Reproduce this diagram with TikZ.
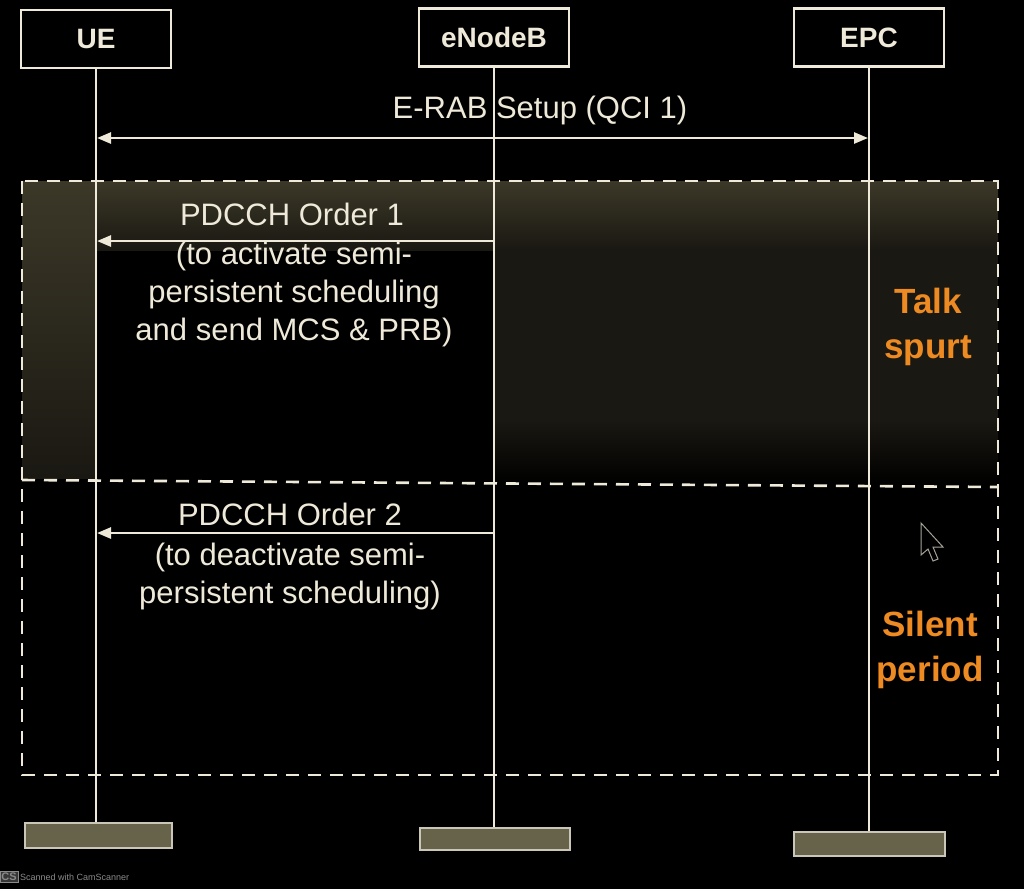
\documentclass[tikz,border=0pt]{standalone}
\usepackage{fontspec}
\setmainfont{Liberation Sans}
\usetikzlibrary{arrows.meta}
\definecolor{fg}{HTML}{EEE9D8}
\definecolor{org}{HTML}{EE8A22}
\definecolor{barfill}{HTML}{66634A}
\definecolor{olivetop}{HTML}{3C3828}
\definecolor{olivedark}{HTML}{1A1812}
\definecolor{wm}{HTML}{8A8A8A}
\begin{document}
\begin{tikzpicture}[x=1pt,y=-1pt,
  actor/.style={draw=fg,line width=2.5pt,fill=black,text=fg,inner sep=0pt,
    minimum width=150pt,minimum height=58pt,font=\bfseries\fontsize{28}{30}\selectfont},
  bar/.style={draw=fg!85!black,line width=2pt,fill=barfill,inner sep=0pt},
  life/.style={draw=fg,line width=1.8pt},
  msg/.style={draw=fg,line width=2.6pt},
  tip/.style={arrows={-Triangle[length=14pt,width=11pt]}},
  both/.style={arrows={Triangle[length=14pt,width=11pt]-Triangle[length=14pt,width=11pt]}},
  lbl/.style={text=fg,inner sep=0pt,align=center,font=\fontsize{31}{38}\selectfont},
  phase/.style={text=org,inner sep=0pt,align=center,font=\bfseries\fontsize{35}{45}\selectfont},
  frameline/.style={draw=fg,line width=2.6pt,dash pattern=on 13pt off 9pt}
]
\fill[black] (0,0) rectangle (1024,889);
\useasboundingbox (0,0) rectangle (1024,889);
% tinted upper region
\shade[top color=olivetop,bottom color=olivedark] (22,181) rectangle (998,250);
\fill[olivedark] (494,250) rectangle (998,420);
\shade[top color=olivedark,bottom color=black] (494,420) rectangle (998,483);
\shade[top color=olivetop,bottom color=olivedark] (22,181) rectangle (97,478);
% dashed phase frame
\draw[frameline] (22,181) rectangle (998,775);
\coordinate (divL) at (22,480);
\coordinate (divR) at (998,487);
\draw[frameline] (divL) -- (divR);
% actors
\node[actor] (ue) at (96,39) {UE};
\node[actor] (enb) at (494,37.5) {eNodeB};
\node[actor] (epc) at (869,37.5) {EPC};
% bottom bars
\node[bar,minimum width=147pt,minimum height=25pt] (ueb) at (98,835.5) {};
\node[bar,minimum width=150pt,minimum height=22pt] (enbb) at (495,839) {};
\node[bar,minimum width=151pt,minimum height=24pt] (epcb) at (869.5,844) {};
% lifelines
\draw[life] (ue.south) -- (ue.south |- ueb.north);
\draw[life] (enb.south) -- (enb.south |- enbb.north);
\draw[life] (epc.south) -- (epc.south |- epcb.north);
% E-RAB setup
\coordinate (r1) at (97,138);
\coordinate (r2) at (868,138);
\draw[msg,both] (r1) -- (r2);
\node[lbl] (rlab) at (540,110) {E-RAB Setup (QCI 1)};
% PDCCH order 1
\coordinate (a1) at (494,241);
\coordinate (a2) at (97,241);
\draw[msg,tip] (a1) -- (a2);
\node[lbl] (o1) at (292,214) {PDCCH Order 1};
\node[lbl] (o1b) at (294,294) {(to activate semi-\\persistent scheduling\\and send MCS \& PRB)};
% PDCCH order 2
\coordinate (b1) at (494,533);
\coordinate (b2) at (97,533);
\draw[msg,tip] (b1) -- (b2);
\node[lbl] (o2) at (290,514) {PDCCH Order 2};
\node[lbl] (o2b) at (290,576) {(to deactivate semi-\\persistent scheduling)};
% phases
\node[phase] (talk) at (928,327) {Talk\\spurt};
\node[phase] (silent) at (930,650) {Silent\\period};
% mouse cursor
\draw[fg!70!black,line width=1pt,fill=black] (921,523) -- (921,555) -- (928,549) -- (933,561) -- (938,559) -- (933,547) -- (943,547) -- cycle;
% watermark
\node[draw=wm,fill=wm!40!black,text=wm,inner sep=1.5pt,font=\bfseries\fontsize{11}{11}\selectfont] (cs) at (9,877) {CS};
\node[text=wm,anchor=west,inner sep=0pt,font=\fontsize{9}{9}\selectfont] (wmt) at (cs.east) {\,Scanned with CamScanner};
\end{tikzpicture}
\end{document}
